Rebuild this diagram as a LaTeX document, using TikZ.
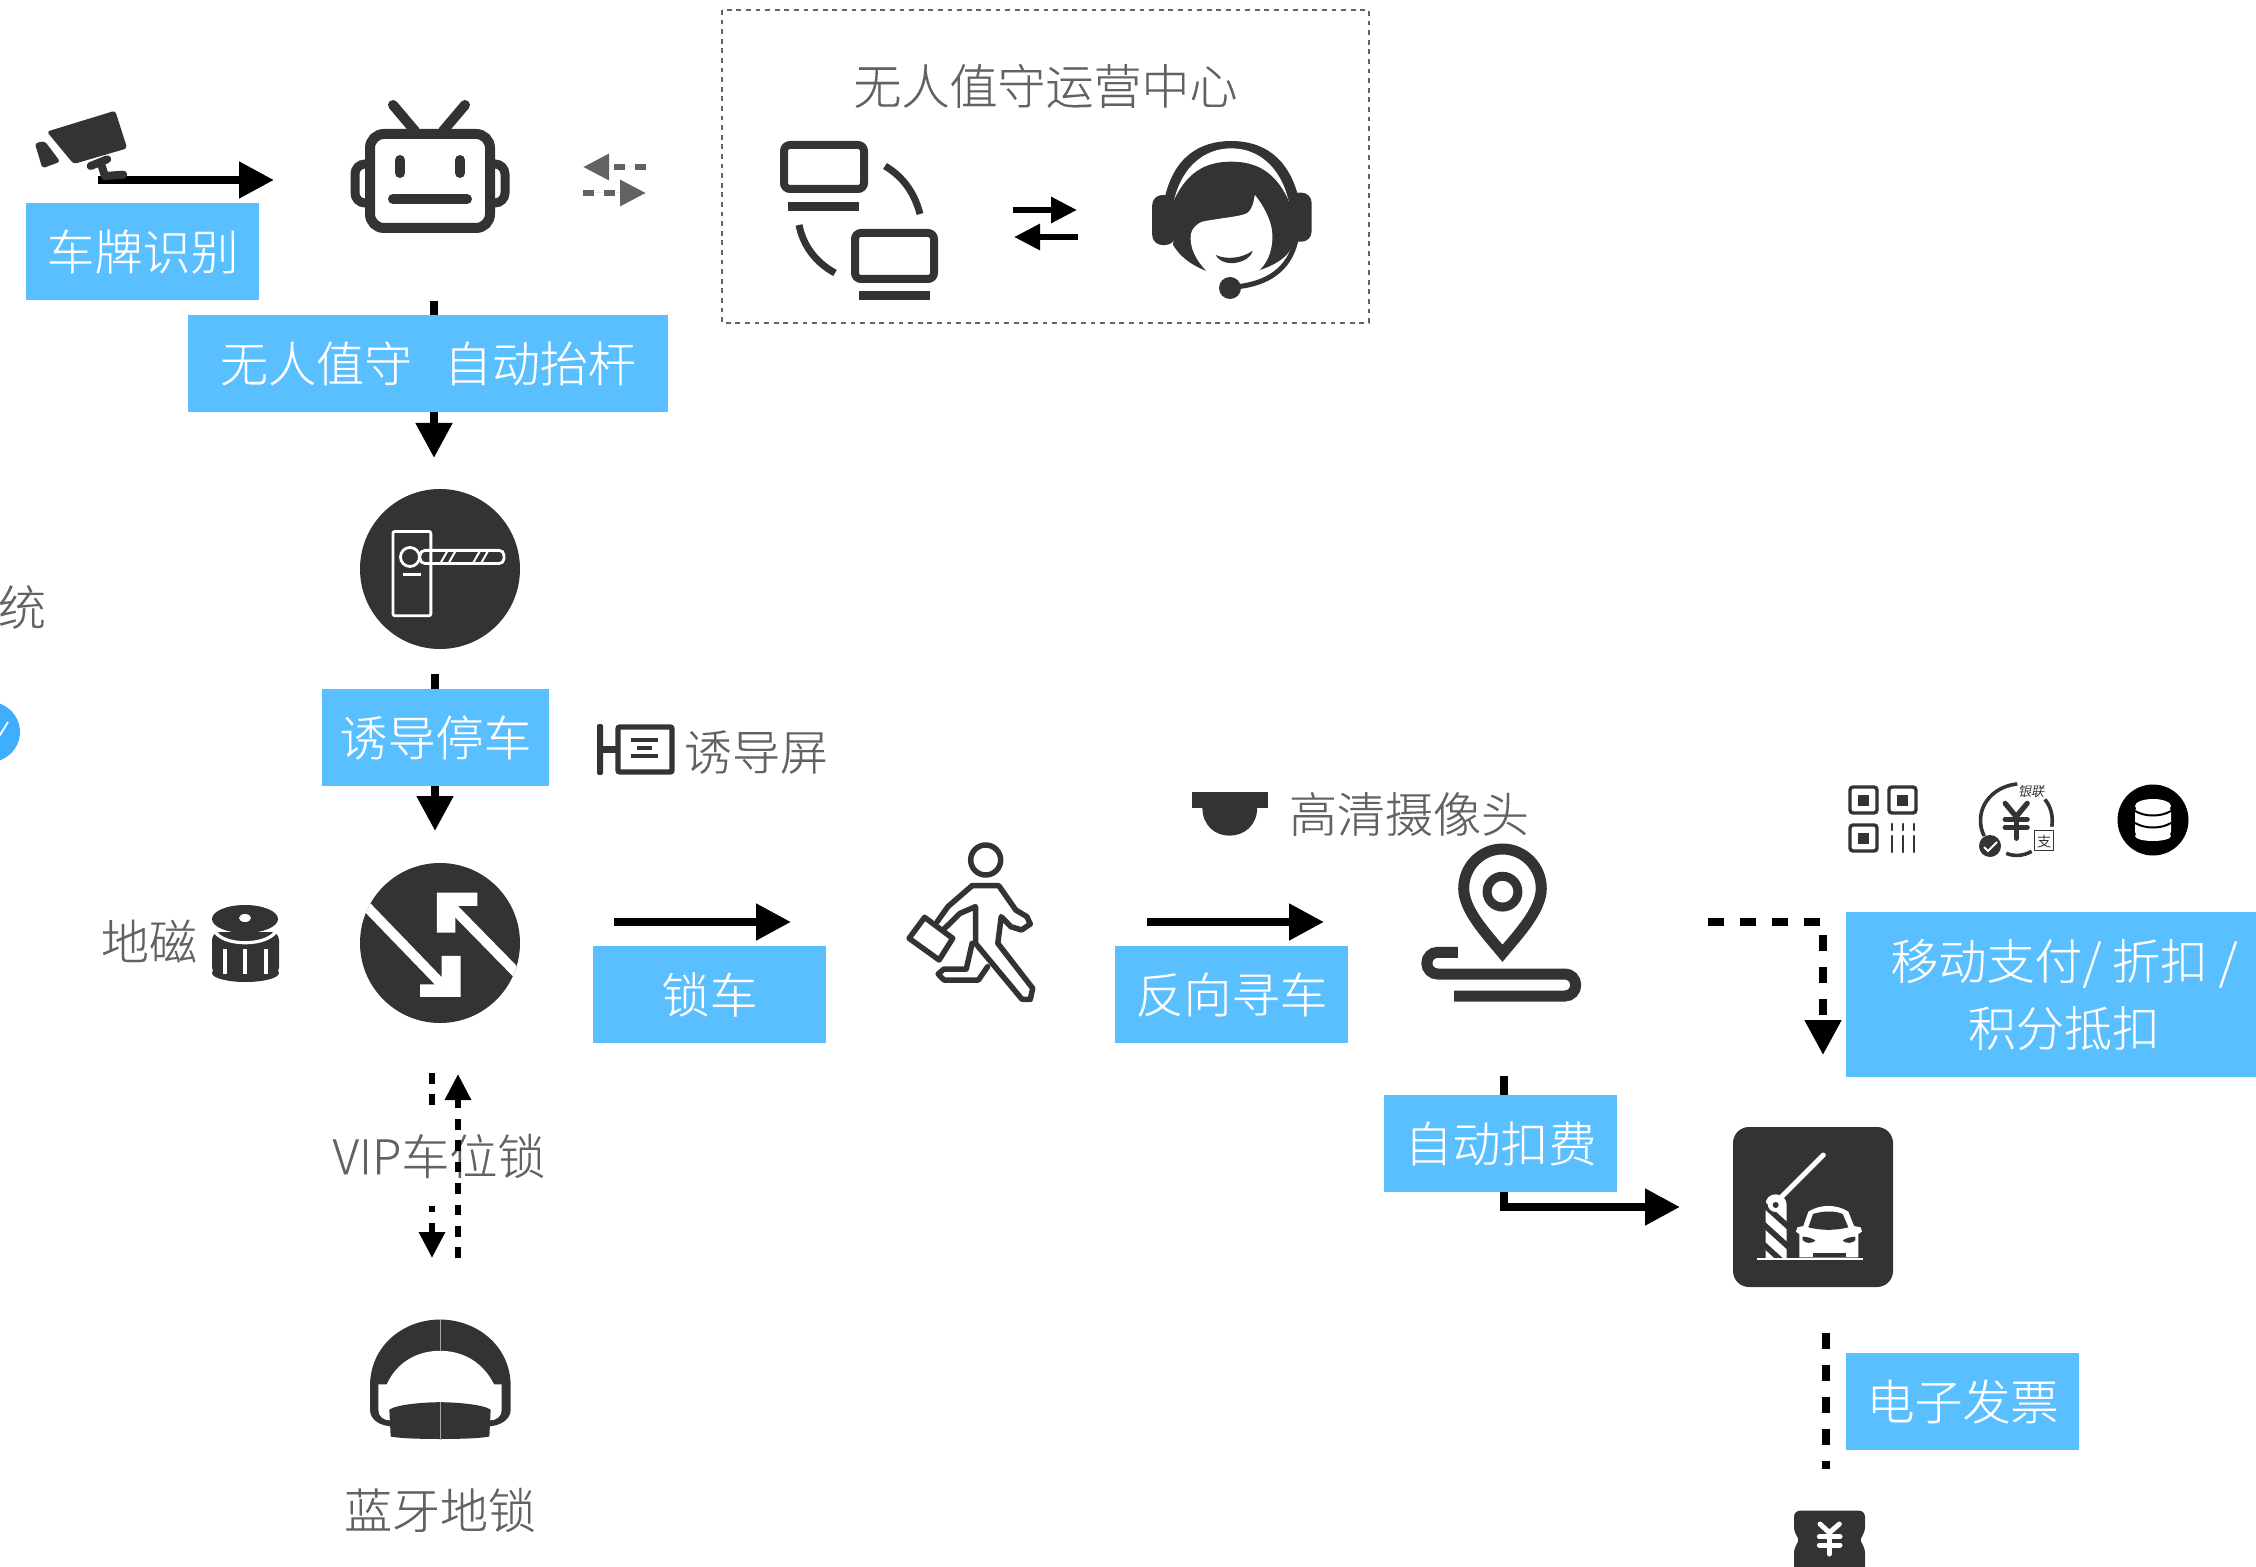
\documentclass[tikz,border=0pt]{standalone}
\usepackage{fontspec}
\setmainfont{Noto Sans CJK SC}[UprightFont={* Light},UprightFeatures={FakeBold=0.12}]
\usetikzlibrary{arrows.meta}
\definecolor{boxblue}{HTML}{59BFFF}
\definecolor{ico}{HTML}{333333}
\definecolor{txt}{HTML}{626262}
\definecolor{badge}{HTML}{3FAEFF}
\tikzset{
  zA/.style={shift={(0,80)},x=0.2232pt,y=-0.16667pt},
  zB/.style={shift={(700,0)},x=0.2232pt,y=-0.16667pt},
  zC/.style={shift={(0,470)},x=0.271pt,y=-0.1786pt},
  zD/.style={shift={(300,1040)},x=0.16667pt,y=-0.168pt},
  zE/.style={shift={(880,770)},x=0.2424pt,y=-0.16667pt},
  zF/.style={shift={(1680,760)},x=0.1837pt,y=-0.16667pt},
  zG/.style={shift={(1680,1100)},x=0.16667pt,y=-0.16667pt},
  tbox/.style={fill=boxblue,text=white,inner sep=0pt,minimum width=116.5pt,minimum height=48.5pt,font=\fontsize{24pt}{33.5pt}\selectfont,align=center},
  tlabel/.style={text=txt,inner sep=0pt,font=\fontsize{24pt}{30pt}\selectfont},
  bigarrow/.style={line width=4pt,draw=black,-{Triangle[length=17.5pt,width=17.5pt]}},
  smallarrow/.style={line width=3pt,draw=black,-{Triangle[length=13pt,width=12.5pt]}},
  graydash/.style={smallarrow,draw=txt,fill=txt,dash pattern=on 5.35pt off 5.35pt},
  dashbig/.style={dash pattern=on 8pt off 8pt},
  icoline/.style={draw=ico,line width=#1,line cap=round,line join=round},
  icoline/.default=2.75pt,
}
\begin{document}
\begin{tikzpicture}[x=0.5pt,y=-0.5pt]
\useasboundingbox (0,0) rectangle (2256,1567);
\fill[white] (0,0) rectangle (2256,1567);

% connector end points
\coordinate (c1a) at (98,180);   \coordinate (c1b) at (274,180);
\coordinate (c2a) at (434,301);  \coordinate (c2b) at (434,458);
\coordinate (c3a) at (435,674);  \coordinate (c3b) at (435,831);
\coordinate (c4a) at (614,922);  \coordinate (c4b) at (791,922);
\coordinate (c5a) at (1147,922); \coordinate (c5b) at (1324,922);
\coordinate (c6a) at (1504,1076);\coordinate (c6b) at (1504,1207);\coordinate (c6c) at (1680,1207);
\coordinate (c7a) at (1708,922); \coordinate (c7b) at (1823,922); \coordinate (c7c) at (1823,1055);
\coordinate (c8a) at (1826,1333);\coordinate (c8b) at (1826,1469);
\coordinate (g1a) at (646,167);  \coordinate (g1b) at (583,167);
\coordinate (g2a) at (583,193);  \coordinate (g2b) at (646,193);
\coordinate (o1a) at (1013,210); \coordinate (o1b) at (1077,210);
\coordinate (o2a) at (1078,237); \coordinate (o2b) at (1014,237);
\coordinate (v1a) at (432,1073); \coordinate (v1b) at (432,1258);
\coordinate (v2a) at (458,1258); \coordinate (v2b) at (458,1074);

% connectors beneath the boxes
\draw[bigarrow] (c1a) -- (c1b);
\draw[bigarrow] (c2a) -- (c2b);
\draw[bigarrow] (c3a) -- (c3b);
\draw[bigarrow] (c4a) -- (c4b);
\draw[bigarrow] (c5a) -- (c5b);
\draw[bigarrow] (c6a) -- (c6b) -- (c6c);
\draw[bigarrow,dashbig] (c7a) -- (c7b) -- (c7c);
\draw[line width=4pt,dashbig] (c8a) -- (c8b);
\draw[graydash] (g1a) -- (g1b);
\draw[graydash] (g2a) -- (g2b);
\draw[smallarrow] (o1a) -- (o1b);
\draw[smallarrow] (o2a) -- (o2b);
\draw[smallarrow,dash pattern=on 5.35pt off 5.35pt] (v1a) -- (v1b);

% blue boxes
\node[tbox] (b1) at (142.5,251.5) {车牌识别};
\node[tbox,minimum width=240pt] (b2) at (428,363.5) {无人值守\ \ \ 自动抬杆};
\node[tbox,minimum width=113.5pt] (b3) at (435.5,737.5) {诱导停车};
\node[tbox] (b4) at (709.5,994.5) {锁车};
\node[tbox] (b5) at (1231.5,994.5) {反向寻车};
\node[tbox] (b6) at (1500.5,1143.5) {自动扣费};
\node[tbox,minimum width=218pt,minimum height=82.5pt] (b7) at (2064,994.5) {移动支付/ 折扣 /\\积分抵扣};
\node[tbox] (b8) at (1962.5,1401.5) {电子发票};

% labels
\node[tlabel] (t1) at (1045.5,86) {无人值守运营中心};
\node[tlabel] (t2) at (22,607) {统};
\node[tlabel] (t3) at (756,752) {诱导屏};
\node[tlabel] (t4) at (149,941) {地磁};
\node[tlabel] (t5) at (1409,814) {高清摄像头};
\node[tlabel] (t6) at (440,1510) {蓝牙地锁};
\node[tlabel,fill=white,minimum width=110pt,minimum height=50pt] (t7) at (439,1156) {VIP车位锁};
\draw[smallarrow,dash pattern=on 5.35pt off 5.35pt] (v2a) -- (v2b);

% dashed frame
\draw[txt,line width=1.2pt,dash pattern=on 2.4pt off 2.4pt] (722,10) rectangle (1369,323);

% camera
\begin{scope}[zA]
\fill[ico,rounded corners=1.5pt] (105,155)--(258,92)--(285,205)--(165,252)--cycle;
\fill[ico,rounded corners=1.5pt] (78,190)--(100,183)--(135,245)--(95,265)--cycle;
\draw[icoline=4pt] (203,258)--(240,238);
\draw[icoline=4pt] (228,258)--(235,288)--(276,284);
\end{scope}

% robot
\draw[draw=ico,line width=5pt,rounded corners=7pt] (370,134) rectangle (490,228);
\draw[draw=ico,line width=4.5pt,rounded corners=5pt] (366,164)--(355,164)--(355,203)--(366,203);
\draw[draw=ico,line width=4.5pt,rounded corners=5pt] (494,164)--(505,164)--(505,203)--(494,203);
\draw[icoline=5pt] (393,105)--(415,131);
\draw[icoline=5pt] (465,105)--(443,131);
\draw[icoline=5pt] (400,160)--(400,173);
\draw[icoline=5pt] (460,160)--(460,173);
\draw[icoline=5pt] (393,199)--(467,199);

% monitors
\draw[draw=ico,line width=4pt,rounded corners=3pt] (784,145) rectangle (864,189);
\fill[ico] (788,202) rectangle (859,211);
\draw[draw=ico,line width=4pt,rounded corners=3pt] (855,233) rectangle (934,279);
\fill[ico] (859,291) rectangle (930,300);
\draw[draw=ico,line width=3.5pt] (885,166) .. controls (905,178) and (915,195) .. (920,214);
\draw[draw=ico,line width=3.5pt] (799,225) .. controls (803,245) and (815,262) .. (835,273);

% operator
\begin{scope}[zB]
\fill[ico] (1040,600) .. controls (1060,470) and (1120,423) .. (1190,423) .. controls (1260,423) and (1320,470) .. (1342,600) -- cycle;
\fill[white] (1062,600) .. controls (1080,500) and (1130,445) .. (1190,445) .. controls (1250,445) and (1300,500) .. (1318,600) -- cycle;
\fill[ico] (1062,600) .. controls (1090,520) and (1130,485) .. (1190,485) .. controls (1250,485) and (1290,520) .. (1318,600) -- (1335,700) .. controls (1330,760) and (1300,790) .. (1250,812) -- (1138,815) .. controls (1110,800) and (1080,780) .. (1060,735) -- cycle;
\fill[white] (1100,700) .. controls (1103,685) and (1112,672) .. (1125,665) .. controls (1160,655) and (1210,650) .. (1225,640) .. controls (1240,625) and (1240,600) .. (1243,585) .. controls (1270,630) and (1285,680) .. (1282,720) .. controls (1280,760) and (1270,790) .. (1250,815) -- (1138,818) .. controls (1110,780) and (1095,740) .. (1100,700) -- cycle;
\fill[ico] (1155,765) .. controls (1180,780) and (1215,775) .. (1238,752) .. controls (1235,785) and (1175,810) .. (1155,765) -- cycle;
\fill[ico,rounded corners=5pt] (1013,585) rectangle (1065,735);
\fill[ico,rounded corners=5pt] (1318,578) rectangle (1370,725);
\draw[draw=ico,line width=2.5pt] (1335,720) .. controls (1320,810) and (1270,850) .. (1205,860);
\end{scope}
\fill[ico] (1230,288) circle (11);

% barrier sign
\fill[ico] (440,569) circle (80);
\begin{scope}[zC]
\draw[white,line width=1.4pt,rounded corners=1pt] (725,172) rectangle (795,408);
\draw[white,line width=1.4pt,rounded corners=2.5pt] (775,225) rectangle (930,262);
\foreach \a in {825,840,885,900} \draw[white,line width=1pt] (\a,228) -- (\a-12,260);
\draw[white,line width=1.8pt] (743,292) -- (777,292);
\end{scope}
\draw[white,fill=ico,line width=1.4pt] (410,557) circle (9.5);

% direction sign
\fill[ico] (440,943) circle (80);
\begin{scope}
\clip (440,943) circle (80);
\begin{scope}[zC]
\draw[white,line width=5pt] (640,1165) -- (815,1440);
\draw[white,line width=5pt] (835,1225) -- (990,1465);
\fill[white] (850,1360)--(850,1475)--(775,1475)--(775,1440)--(815,1440)--(815,1360)--cycle;
\fill[white] (806,1183)--(881,1183)--(881,1220)--(840,1220)--(840,1295)--(806,1295)--cycle;
\end{scope}
\end{scope}

% guidance screen
\fill[ico,rounded corners=1pt] (597,724) rectangle (603,775);
\fill[ico] (600,746) rectangle (618,753);
\draw[draw=ico,line width=2.7pt,rounded corners=1pt] (618,727) rectangle (672,772);
\fill[ico] (631,738) rectangle (658,742);
\fill[ico] (637,746) rectangle (652,750);
\fill[ico] (631,754) rectangle (658,758);

% ground magnet
\fill[ico,rounded corners=4pt] (212,932) rectangle (279,975);
\fill[ico] (245.5,973) ellipse (33.5 and 9);
\fill[ico] (245,919) ellipse (33 and 14);
\draw[white,line width=1.6pt] (214,930) .. controls (222,947) and (268,947) .. (277,930);
\fill[white] (245,918) ellipse (6 and 4);
\foreach \a in {225,245,266} \draw[white,line width=2pt] (\a,949) -- (\a,974);

% badge at left edge
\fill[badge] (-10,732) circle (30);
\draw[white,line width=0.9pt] (-6,738) -- (0,735) -- (8,722);

% bluetooth lock
\begin{scope}[zD]
\fill[ico] (210,1100) -- (210,1030) .. controls (210,910) and (310,832) .. (420,832) .. controls (530,832) and (632,910) .. (632,1030) -- (632,1100) .. controls (632,1130) and (600,1150) .. (560,1150) -- (280,1150) .. controls (240,1150) and (210,1130) .. (210,1100) -- cycle;
\fill[white] (235,1025) -- (260,1025) .. controls (290,960) and (350,925) .. (420,925) .. controls (490,925) and (550,960) .. (582,1025) -- (605,1025) -- (605,1100) .. controls (605,1120) and (590,1132) .. (570,1132) -- (270,1132) .. controls (250,1132) and (235,1120) .. (235,1100) -- cycle;
\fill[ico] (268,1100) .. controls (290,1085) and (370,1078) .. (420,1078) .. controls (470,1078) and (550,1085) .. (572,1100) -- (568,1180) .. controls (530,1190) and (310,1190) .. (272,1180) -- cycle;
\draw[gray!70,line width=0.4pt] (420,832)--(420,925);
\draw[gray!70,line width=0.4pt] (420,1078)--(420,1190);
\end{scope}

% person, dome camera, pin
\begin{scope}[zE]
\draw[icoline] (218,270) ellipse [x radius=7.5pt,y radius=7.5pt];
\draw[icoline] (190,347)--(245,347)--(280,420)--(303,440)--(310,462)--(292,480)--(270,470)--(250,440)--(243,520)--(315,655)--(310,688)--(293,688)--(197,520)--(197,410)--(165,430)--(130,480);
\draw[icoline] (190,347)--(140,410)--(118,455);
\draw[icoline] (190,520)--(178,597)--(132,597)--(120,612)--(132,630)--(203,630)--(222,590);
\draw[icoline] (92,442)--(150,505)--(122,570)--(60,505)--cycle;
\fill[ico] (643,65) rectangle (800,113);
\fill[ico] (665,113) .. controls (665,165) and (690,197) .. (721,197) .. controls (752,197) and (778,165) .. (778,113) -- cycle;
\draw[draw=ico,line width=5.5pt,line join=miter] (1284,550) .. controls (1250,490) and (1204,420) .. (1204,355) .. controls (1204,290) and (1240,237) .. (1284,237) .. controls (1328,237) and (1364,290) .. (1364,355) .. controls (1364,420) and (1318,490) .. (1284,550) -- cycle;
\draw[draw=ico,line width=4.5pt] (1284,365) ellipse [x radius=7.7pt,y radius=7.7pt];
\draw[draw=ico,line width=5.5pt,rounded corners=5.4pt] (1192,547)--(1128,547)--(1128,612)--(1435,612)--(1435,678)--(1184,678);
\end{scope}

% payment icons
\foreach \a/\b in {1848/785,1887/785,1848/823}{
  \draw[draw=ico,line width=1.7pt,rounded corners=1.5pt] (\a+2,\b+2) rectangle (\a+29,\b+28);
  \fill[ico] (\a+10,\b+10) rectangle (\a+21,\b+21);
}
\foreach \a in {1892,1903,1914}{
  \draw[icoline=1.4pt] (\a,824)--(\a,830);
  \draw[icoline=1.4pt] (\a,836)--(\a,852);
}
\begin{scope}[zF]
\draw[draw=ico,line width=1.8pt] (918,72) .. controls (860,78) and (818,125) .. (818,180) .. controls (818,195) and (820,212) .. (828,228);
\draw[draw=ico,line width=1.8pt] (993,118) .. controls (1010,140) and (1016,170) .. (1012,200);
\draw[draw=ico,line width=1.8pt] (888,280) .. controls (910,290) and (935,288) .. (957,274);
\draw[icoline=2.6pt] (885,130)--(915,170)--(945,130);
\draw[icoline=2.6pt] (885,178)--(945,178);
\draw[icoline=2.6pt] (885,202)--(945,202);
\draw[icoline=2.6pt] (915,170)--(915,235);
\draw[draw=ico,line width=0.5pt,fill=white] (965,212) rectangle (1017,272);
\end{scope}
\fill[ico] (1990,846) circle (11);
\draw[white,line width=1pt] (1984,847)--(1988,851)--(1997,842);
\node[text=ico,inner sep=0pt,font=\fontsize{6.5pt}{7pt}\selectfont,xslant=0.2] (u1) at (2032,791) {银联};
\node[text=ico,inner sep=0pt,font=\fontsize{7pt}{8pt}\selectfont] (u2) at (2044,841) {支};
\fill[black] (2153,820) circle (35.5);
\fill[white,rounded corners=3pt] (2135,806) rectangle (2171,837);
\fill[white] (2153,806) ellipse (18 and 7);
\fill[white] (2153,836) ellipse (18 and 5);
\draw[black,line width=1pt] (2135,811) .. controls (2145,817) and (2161,817) .. (2171,811);
\draw[black,line width=1pt] (2135,823) .. controls (2145,829) and (2161,829) .. (2171,823);

% exit icon
\fill[ico,rounded corners=8pt] (1733,1127) rectangle (1893,1287);
\begin{scope}[zG]
\draw[white,line width=2.5pt,line cap=round] (305,290)--(430,165);
\fill[white] (257,312) .. controls (257,295) and (270,283) .. (287,283) .. controls (305,283) and (318,295) .. (320,312) -- (320,475) -- (257,475) -- cycle;
\begin{scope}
\clip (250,283) rectangle (325,476);
\draw[ico,line width=2.8pt] (245,308)--(330,385);
\draw[ico,line width=2.8pt] (245,368)--(330,445);
\draw[ico,line width=2.8pt] (245,428)--(315,492);
\end{scope}
\fill[white] (287,312) circle [radius=4pt];
\fill[ico] (287,315) circle [radius=1.5pt];
\draw[white,line width=0.9pt] (230,476)--(548,476);
\fill[white] (358,472)--(358,402)--(348,395)--(352,382)--(370,378)--(385,335) .. controls (420,312) and (470,312) .. (505,335) -- (522,378)--(542,382)--(546,395)--(535,402)--(535,472)--cycle;
\fill[ico] (385,382)--(399,342) .. controls (430,332) and (465,332) .. (488,342) -- (505,382) .. controls (465,392) and (425,392) .. (385,382) -- cycle;
\fill[ico] (368,410) .. controls (380,410) and (400,415) .. (406,422) .. controls (395,432) and (375,430) .. (368,420) -- cycle;
\fill[ico] (526,410) .. controls (514,410) and (494,415) .. (488,422) .. controls (499,432) and (519,430) .. (526,420) -- cycle;
\fill[ico] (398,460) rectangle (498,472);
\fill[ico,rounded corners=3pt] (342,1232)--(555,1232)--(555,1300)--(535,1320)--(555,1340)--(555,1425)--(342,1425)--(342,1340)--(362,1320)--(342,1300)--cycle;
\draw[white,line width=2.5pt,line cap=round] (420,1272)--(448,1298)--(478,1272);
\draw[white,line width=2.5pt,line cap=round] (418,1310)--(480,1310);
\draw[white,line width=2.5pt,line cap=round] (418,1335)--(480,1335);
\draw[white,line width=2.5pt,line cap=round] (448,1298)--(448,1362);
\end{scope}
\end{tikzpicture}
\end{document}
